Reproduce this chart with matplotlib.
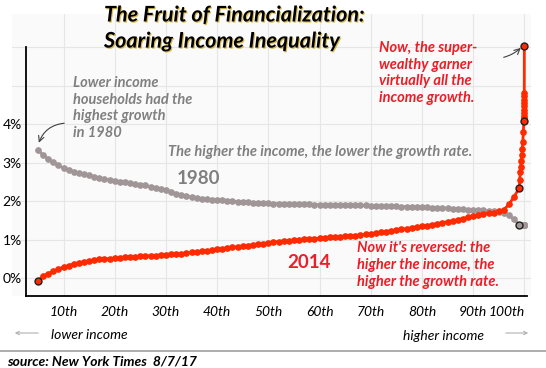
import matplotlib
matplotlib.use("Agg")
import matplotlib.pyplot as plt
import matplotlib.patheffects as pe

plt.rcParams['font.family'] = ['Lato', 'DejaVu Sans']

# income percentile (5th .. 99th, then the top tail)
pct = list(range(5, 100)) + [99.1, 99.2, 99.3, 99.4, 99.5, 99.6, 99.7, 99.8, 99.9,
                             99.91, 99.92, 99.93, 99.94, 99.95, 99.96, 99.97, 99.98, 99.99,
                             99.999]

# annual income growth, 1980 (%)
g1980 = [3.33, 3.20, 3.10, 3.01, 2.93, 2.86, 2.81, 2.77, 2.73, 2.70,
         2.67, 2.64, 2.61, 2.58, 2.55, 2.53, 2.51, 2.49, 2.47, 2.45,
         2.43, 2.41, 2.38, 2.35, 2.31, 2.28, 2.24, 2.20, 2.16, 2.13,
         2.10, 2.08, 2.06, 2.05, 2.04, 2.03, 2.02, 2.01, 2.00, 1.99,
         1.98, 1.97, 1.96, 1.96, 1.95, 1.95, 1.94, 1.94, 1.93, 1.93,
         1.93, 1.92, 1.92, 1.92, 1.91, 1.91, 1.91, 1.91, 1.90, 1.90,
         1.90, 1.90, 1.89, 1.89, 1.89, 1.88, 1.88, 1.88, 1.87, 1.87,
         1.87, 1.86, 1.86, 1.85, 1.85, 1.84, 1.84, 1.83, 1.83, 1.82,
         1.82, 1.81, 1.80, 1.79, 1.78, 1.77, 1.76, 1.76, 1.75, 1.74,
         1.73, 1.70, 1.63, 1.53, 1.38,
         1.38, 1.38, 1.38, 1.38, 1.38, 1.38, 1.38, 1.38, 1.38,
         1.38, 1.38, 1.38, 1.38, 1.38, 1.38, 1.38, 1.38, 1.38,
         1.38]

# annual income growth, 2014 (%)
g2014 = [-0.08, 0.06, 0.12, 0.18, 0.24, 0.29, 0.33, 0.37, 0.40, 0.43,
         0.45, 0.47, 0.49, 0.50, 0.51, 0.52, 0.53, 0.54, 0.55, 0.56,
         0.57, 0.58, 0.58, 0.59, 0.60, 0.61, 0.62, 0.63, 0.64, 0.66,
         0.67, 0.69, 0.70, 0.72, 0.73, 0.75, 0.77, 0.79, 0.80, 0.82,
         0.83, 0.85, 0.87, 0.88, 0.90, 0.92, 0.94, 0.95, 0.97, 0.98,
         0.99, 1.00, 1.01, 1.02, 1.03, 1.04, 1.05, 1.06, 1.07, 1.08,
         1.09, 1.10, 1.11, 1.13, 1.14, 1.16, 1.17, 1.19, 1.21, 1.23,
         1.25, 1.27, 1.29, 1.31, 1.33, 1.35, 1.37, 1.39, 1.42, 1.44,
         1.47, 1.49, 1.52, 1.55, 1.58, 1.61, 1.63, 1.66, 1.69, 1.70,
         1.74, 1.78, 1.92, 2.12, 2.34,
         2.55, 2.75, 2.90, 3.05, 3.20, 3.35, 3.55, 3.80, 4.09,
         4.15, 4.22, 4.30, 4.38, 4.46, 4.55, 4.63, 4.72, 4.80,
         6.03]

# highlighted points (indices into the series)
hl_1980 = [94]
hl_2014 = [0, 94, 103, 113]

xtick_vals = list(range(10, 101, 10))
xtick_labels = ['10th', '20th', '30th', '40th', '50th', '60th', '70th', '80th', '90th', '100th']
ytick_vals = [0, 1, 2, 3, 4, 5, 6]
ytick_labels = ['0%', '1%', '2%', '3%', '4%', '', '']

GREY = '#a09597'
RED = '#ff2a00'
W, H = 546, 368

fig = plt.figure(figsize=(5.46, 3.68), dpi=100)
ax = fig.add_axes([12 / W, 1 - 296 / H, 519 / W, 282 / H])
ax.set_facecolor('#fafafa')
ax.set_xlim(-0.06, 101.3)
ax.set_ylim(-0.46, 6.86)

ax.set_xticks(xtick_vals)
ax.set_xticklabels(xtick_labels, fontstyle='italic', fontsize=10)
ax.set_yticks(ytick_vals)
ax.set_yticklabels(ytick_labels, fontstyle='italic', fontsize=10)
ax.tick_params(axis='x', length=0, pad=7)
ax.tick_params(axis='y', length=0, pad=3)
ax.get_xticklabels()[-1].set_horizontalalignment('right')
ax.grid(True, color='#e6e6e6', lw=0.8)
ax.set_axisbelow(True)

for s in ['top', 'right']:
    ax.spines[s].set_visible(False)
ax.spines['left'].set_position(('data', 2.68))
ax.spines['left'].set_bounds(-0.46, 6.0)
ax.spines['bottom'].set_bounds(2.68, 100.6)
ax.spines['left'].set_linewidth(1.3)
ax.spines['bottom'].set_linewidth(1.3)

ax.plot(pct, g1980, color=GREY, lw=2, marker='o', ms=3.8, zorder=3)
ax.plot(pct, g2014, color=RED, lw=2, marker='o', ms=3.8, zorder=4)
ax.plot([pct[i] for i in hl_1980], [g1980[i] for i in hl_1980], 'o', ms=5,
        mfc=GREY, mec='#202020', mew=1, zorder=5)
ax.plot([pct[i] for i in hl_2014], [g2014[i] for i in hl_2014], 'o', ms=5,
        mfc=RED, mec='#202020', mew=1, zorder=6)


def px(x, y):
    return x / W, 1 - y / H


# title
fig.text(*px(104, 28), 'The Fruit of Financialization:\nSoaring Income Inequality',
         fontsize=15.5, fontweight='bold', fontstyle='italic', va='center', ha='left',
         linespacing=1.3,
         path_effects=[pe.withSimplePatchShadow(offset=(0.8, -0.8), shadow_rgbFace='#c8a000', alpha=0.7)])

fig.text(*px(73, 108), 'Lower income\nhouseholds had the\nhighest growth\nin 1980',
         fontsize=10.5, fontweight='bold', fontstyle='italic', color='#808080',
         va='center', ha='left', linespacing=1.25)
fig.text(*px(168, 152), 'The higher the income, the lower the growth rate.',
         fontsize=10.5, fontweight='bold', fontstyle='italic', color='#808080',
         va='center', ha='left')
fig.text(*px(198, 179), '1980', fontsize=13.5, fontweight='bold', color='#7f7f7f',
         va='center', ha='center')
fig.text(*px(309, 262), '2014', fontsize=13.5, fontweight='bold', color='#e8202a',
         va='center', ha='center')
fig.text(*px(357, 265), "Now it's reversed: the\nhigher the income, the\nhigher the growth rate.",
         fontsize=10.5, fontweight='bold', fontstyle='italic', color='#ee1c25',
         va='center', ha='left', linespacing=1.25)
fig.text(*px(379, 73), 'Now, the super-\nwealthy garner\nvirtually all the\nincome growth.',
         fontsize=10.5, fontweight='bold', fontstyle='italic', color='#ee1c25',
         va='center', ha='left', linespacing=1.25)

ax.annotate('', xy=(pct[0], g1980[0] + 0.12), xytext=(67, H - 123), textcoords='figure pixels',
            arrowprops=dict(arrowstyle='->', color='#404040', lw=0.8,
                            connectionstyle='arc3,rad=0.35'))
ax.annotate('', xy=(pct[-1] - 0.3, g2014[-1]), xytext=(501, H - 58), textcoords='figure pixels',
            arrowprops=dict(arrowstyle='->', color='#404040', lw=0.8,
                            connectionstyle='arc3,rad=0.15'))

# axis direction hints
fig.text(*px(51, 335), 'lower income', fontsize=10, fontstyle='italic', va='center', ha='left')
fig.text(*px(403, 336), 'higher income', fontsize=10, fontstyle='italic', va='center', ha='left')
fig.add_artist(matplotlib.patches.FancyArrowPatch(px(41, 333), px(12, 333), transform=fig.transFigure,
                                                  arrowstyle='->', color='#b0b0b0', lw=0.8,
                                                  mutation_scale=6))
fig.add_artist(matplotlib.patches.FancyArrowPatch(px(503, 333), px(531, 333), transform=fig.transFigure,
                                                  arrowstyle='->', color='#b0b0b0', lw=0.8,
                                                  mutation_scale=6))

fig.add_artist(matplotlib.lines.Line2D([0, 1], [1 - 350.5 / H] * 2, color='#a0a0a0', lw=1.2))
fig.text(*px(7, 362), 'source: New York Times  8/7/17', fontsize=10, fontweight='bold',
         fontstyle='italic', va='center', ha='left')

fig.savefig('out.png', dpi=100)
